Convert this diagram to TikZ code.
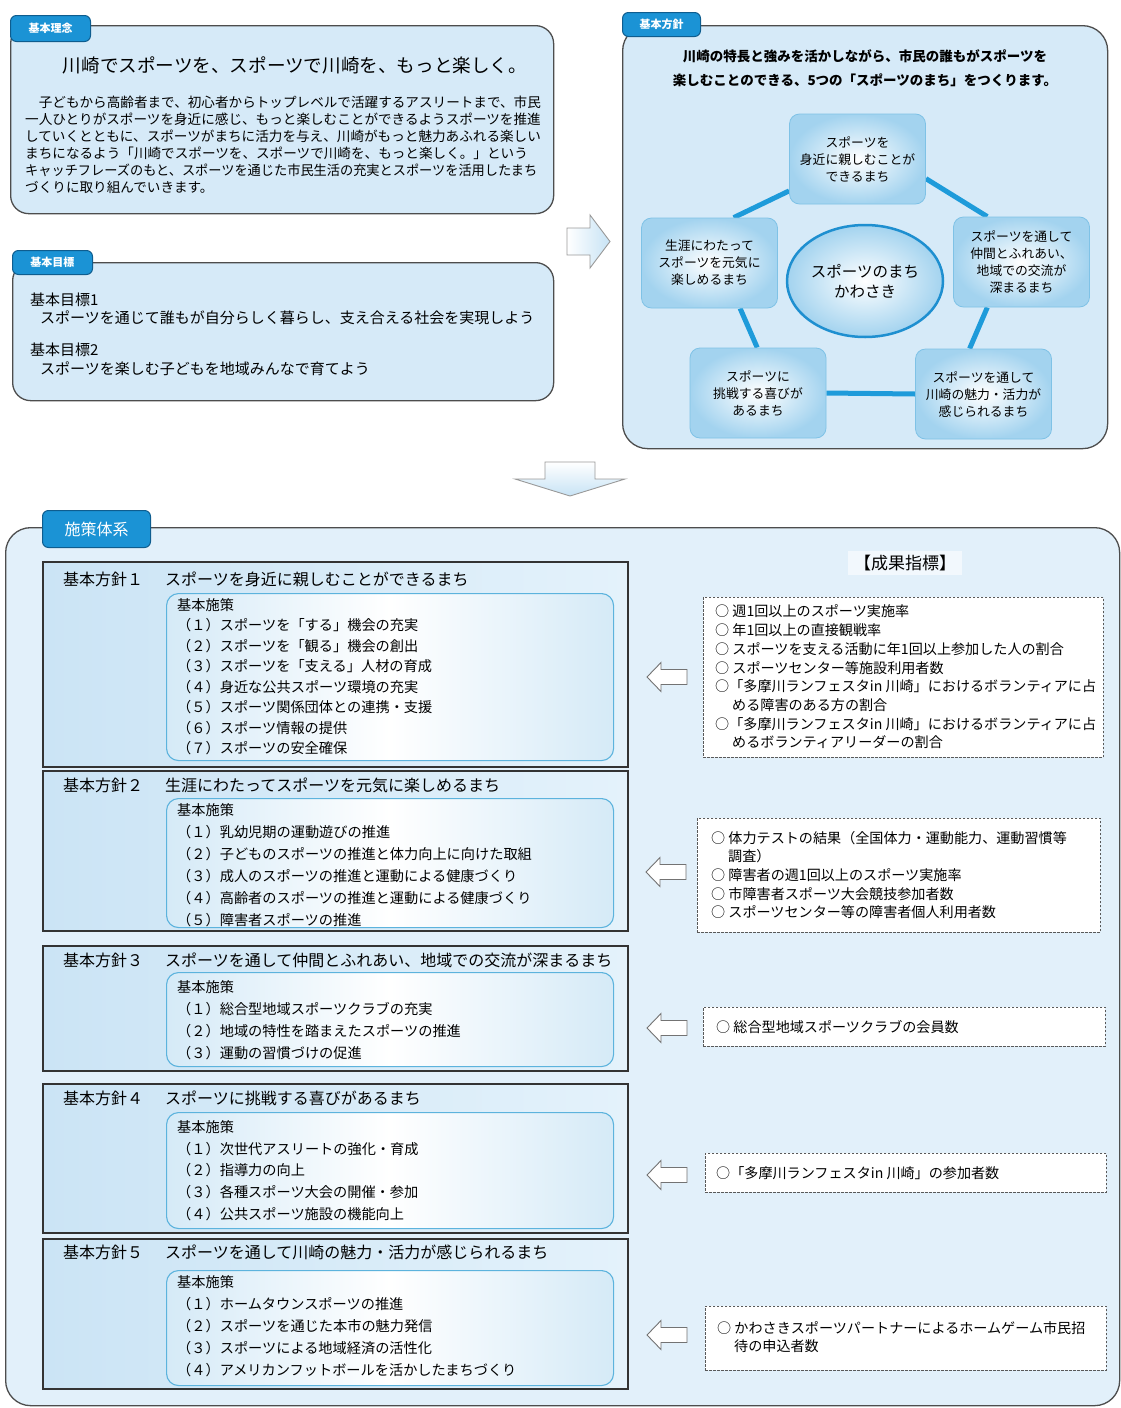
\documentclass[tikz,border=0pt]{standalone}
\usepackage{fontspec}
\setmainfont{Noto Sans CJK JP}
\usetikzlibrary{shapes.geometric}
\pgfdeclarelayer{bg}
\pgfdeclarelayer{mid}
\pgfsetlayers{bg,mid,main}
\definecolor{boxfill}{HTML}{D6EAF8}
\definecolor{bigfill}{HTML}{E2F0FA}
\definecolor{polleft}{HTML}{CBE4F5}
\definecolor{polright}{HTML}{E4F2FB}
\definecolor{innerleft}{HTML}{D5EAF7}
\definecolor{pentedge}{HTML}{A3D3EF}
\definecolor{pentdraw}{HTML}{7FC2E6}
\definecolor{ellipsedraw}{HTML}{1E8FD0}
\definecolor{linkblue}{HTML}{1E9BDA}
\definecolor{tabfill}{HTML}{1B93D5}
\definecolor{tabdraw}{HTML}{0E5D8F}
\definecolor{outline}{HTML}{4D4D4D}
\definecolor{arrowfill}{HTML}{C7E3F5}
\definecolor{innerdraw}{HTML}{5CB3DD}
\tikzset{
  panel/.style={draw=outline, line width=1.3pt, fill=boxfill, rounded corners=18pt, anchor=north west, inner sep=0pt},
  tabbox/.style={draw=tabdraw, line width=1pt, fill=tabfill, rounded corners=6pt, text=white, font=\bfseries\fontsize{11}{13}\selectfont, anchor=north west, inner sep=0pt},
  pentbox/.style={draw=pentdraw, line width=0.8pt, inner color=white, outer color=pentedge, rounded corners=10pt, minimum width=136pt, minimum height=90pt, align=center, font=\fontsize{12.8}{17}\selectfont, inner sep=0pt},
  link/.style={draw=linkblue, line width=5pt},
  polbox/.style={draw=black!80, line width=1.8pt, left color=polleft, right color=polright, anchor=north west, inner sep=0pt, minimum width=585pt},
  innerbox/.style={draw=innerdraw, line width=1.1pt, rounded corners=12pt, left color=innerleft, right color=innerleft, middle color=white, anchor=north west, inner sep=0pt, minimum width=447pt},
  poltitle/.style={anchor=west, inner sep=0pt, font=\fontsize{16}{18}\selectfont},
  items/.style={anchor=west, inner sep=0pt, align=left, font=\fontsize{14.2}{20.5}\selectfont},
  dashbox/.style={draw=black!65, dash pattern=on 2.5pt off 1.5pt, line width=0.9pt, fill=white, anchor=north west, inner sep=0pt},
  ktext/.style={anchor=west, inner sep=0pt, align=left, font=\fontsize{14.1}{18.7}\selectfont},
  hollowarrow/.style={draw=black!55, line width=0.9pt, fill=white},
  bigarrow/.style={draw=black!40, line width=0.9pt, top color=white, bottom color=arrowfill},
  lftarrow/.pic={\draw[hollowarrow] (0,0) -- (14,-14.5) -- (14,-7.5) -- (40,-7.5) -- (40,7.5) -- (14,7.5) -- (14,14.5) -- cycle;}
}
\begin{document}
\begin{tikzpicture}[x=1pt,y=-1pt]
\useasboundingbox (0,0) rectangle (1121,1408);

% ---------- containers ----------
\begin{pgfonlayer}{bg}
\node[panel, minimum width=543pt, minimum height=188pt] (rinen) at (10,25) {};
\node[panel, minimum width=541pt, minimum height=138pt] (mokuhyo) at (12,262) {};
\node[panel, rounded corners=25pt, minimum width=485pt, minimum height=423pt] (hoshin) at (622,25) {};
\node[panel, rounded corners=25pt, fill=bigfill, minimum width=1114pt, minimum height=878pt] (sesaku) at (5,527) {};
\end{pgfonlayer}

% ---------- tabs ----------
\node[tabbox, minimum width=80pt, minimum height=26pt] (rinenTab) at (10,15) {基本理念};
\node[tabbox, minimum width=80pt, minimum height=24pt] (mokuhyoTab) at (12,250) {基本目標};
\node[tabbox, minimum width=78pt, minimum height=24pt] (hoshinTab) at (622,12) {基本方針};
\node[tabbox, minimum width=108pt, minimum height=37pt, font=\fontsize{16}{18}\selectfont] (sesakuTab) at (42,510) {施策体系};

% ---------- 基本理念 ----------
\node[inner sep=0pt, font=\fontsize{18.6}{20}\selectfont] (rinenTitle) at (295,65) {川崎でスポーツを、スポーツで川崎を、もっと楽しく。};
\node[anchor=west, inner sep=0pt, align=left, font=\fontsize{13.6}{17}\selectfont] (rinenBody) at (25,144.5) {%
　子どもから高齢者まで、初心者からトップレベルで活躍するアスリートまで、市民\\
一人ひとりがスポーツを身近に感じ、もっと楽しむことができるようスポーツを推進\\
していくとともに、スポーツがまちに活力を与え、川崎がもっと魅力あふれる楽しい\\
まちになるよう「川崎でスポーツを、スポーツで川崎を、もっと楽しく。」という\\
\scalebox{0.97}[1]{キャッチフレーズのもと、スポーツを通じた市民生活の充実とスポーツを活用したまち}\\
づくりに取り組んでいきます。};

% ---------- 基本目標 ----------
\node[anchor=west, inner sep=0pt, align=left, font=\fontsize{15}{18.5}\selectfont] (goal1) at (30,309) {基本目標1\\\hspace*{10pt}スポーツを通じて誰もが自分らしく暮らし、支え合える社会を実現しよう};
\node[anchor=west, inner sep=0pt, align=left, font=\fontsize{15}{18.5}\selectfont] (goal2) at (30,359.5) {基本目標2\\\hspace*{10pt}スポーツを楽しむ子どもを地域みんなで育てよう};

% ---------- arrows between panels ----------
\draw[bigarrow, left color=white, right color=arrowfill] (567,228) -- (590,228) -- (590,215) -- (610,241.5) -- (590,268) -- (590,255) -- (567,255) -- cycle;
\draw[bigarrow] (545,462) -- (595,462) -- (595,479) -- (625,479) -- (570,496) -- (515,479) -- (545,479) -- cycle;

% ---------- 基本方針 ----------
\node[inner sep=0pt, align=center, font=\bfseries\fontsize{13.5}{24}\selectfont] (hoshinHead) at (865,68) {川崎の特長と強みを活かしながら、市民の誰もがスポーツを\\楽しむことのできる、5つの「スポーツのまち」をつくります。};

\node[pentbox] (T) at (857.5,159) {スポーツを\\身近に親しむことが\\できるまち};
\node[pentbox] (L) at (709.5,263) {生涯にわたって\\スポーツを元気に\\楽しめるまち};
\node[pentbox] (R) at (1021.5,262) {スポーツを通して\\仲間とふれあい、\\地域での交流が\\深まるまち};
\node[pentbox] (BL) at (758,393) {スポーツに\\挑戦する喜びが\\あるまち};
\node[pentbox] (BR) at (983.5,394) {スポーツを通して\\川崎の魅力・活力が\\感じられるまち};
\node[ellipse, draw=ellipsedraw, line width=2.5pt, inner color=white, outer color=pentedge, minimum width=156pt, minimum height=112pt, inner sep=0pt, align=center, font=\fontsize{15.5}{20}\selectfont] (C) at (865,281) {スポーツのまち\\かわさき};

\begin{pgfonlayer}{mid}
\draw[link] (T.205) -- (L.62);
\draw[link] (T.344) -- (R.127);
\draw[link] (L.304) -- (BL.91);
\draw[link] (R.233) -- (BR.107);
\draw[link] (BL.east) -- (BR.west);
\end{pgfonlayer}

% ---------- 施策体系 ----------
\node[fill=white!55!bigfill, inner xsep=6pt, inner ysep=4pt, font=\fontsize{17}{19}\selectfont] (seika) at (905,563) {【成果指標】};

% policy 1
\node[polbox, minimum height=205pt] (p1) at (42,561) {};
\node[poltitle] (p1n) at (63,579) {基本方針１};
\node[poltitle] (p1t) at (165,579) {スポーツを身近に親しむことができるまち};
\node[innerbox, minimum height=167pt] (i1) at (166,593) {};
\node[items] (i1t) at (177,676.5) {基本施策\\（１）スポーツを「する」機会の充実\\（２）スポーツを「観る」機会の創出\\（３）スポーツを「支える」人材の育成\\（４）身近な公共スポーツ環境の充実\\（５）スポーツ関係団体との連携・支援\\（６）スポーツ情報の提供\\（７）スポーツの安全確保};

% policy 2
\node[polbox, minimum height=160pt] (p2) at (42,770) {};
\node[poltitle] (p2n) at (63,785) {基本方針２};
\node[poltitle] (p2t) at (165,785) {生涯にわたってスポーツを元気に楽しめるまち};
\node[innerbox, minimum height=129pt] (i2) at (166,798) {};
\node[items, font=\fontsize{14.2}{22}\selectfont] (i2t) at (177,865) {基本施策\\（１）乳幼児期の運動遊びの推進\\（２）子どものスポーツの推進と体力向上に向けた取組\\（３）成人のスポーツの推進と運動による健康づくり\\（４）高齢者のスポーツの推進と運動による健康づくり\\（５）障害者スポーツの推進};

% policy 3
\node[polbox, minimum height=125pt] (p3) at (42,945) {};
\node[poltitle] (p3n) at (63,960) {基本方針３};
\node[poltitle] (p3t) at (165,960) {スポーツを通して仲間とふれあい、地域での交流が深まるまち};
\node[innerbox, minimum height=94pt] (i3) at (166,972) {};
\node[items, font=\fontsize{14.2}{22}\selectfont] (i3t) at (177,1020) {基本施策\\（１）総合型地域スポーツクラブの充実\\（２）地域の特性を踏まえたスポーツの推進\\（３）運動の習慣づけの促進};

% policy 4
\node[polbox, minimum height=149pt] (p4) at (42,1083) {};
\node[poltitle] (p4n) at (63,1098) {基本方針４};
\node[poltitle] (p4t) at (165,1098) {スポーツに挑戦する喜びがあるまち};
\node[innerbox, minimum height=116pt] (i4) at (166,1112) {};
\node[items, font=\fontsize{14.2}{21.7}\selectfont] (i4t) at (177,1170.5) {基本施策\\（１）次世代アスリートの強化・育成\\（２）指導力の向上\\（３）各種スポーツ大会の開催・参加\\（４）公共スポーツ施設の機能向上};

% policy 5
\node[polbox, minimum height=150pt] (p5) at (42,1238) {};
\node[poltitle] (p5n) at (63,1252) {基本方針５};
\node[poltitle] (p5t) at (165,1252) {スポーツを通して川崎の魅力・活力が感じられるまち};
\node[innerbox, minimum height=115pt] (i5) at (166,1270) {};
\node[items, font=\fontsize{14.2}{22}\selectfont] (i5t) at (177,1326) {基本施策\\（１）ホームタウンスポーツの推進\\（２）スポーツを通じた本市の魅力発信\\（３）スポーツによる地域経済の活性化\\（４）アメリカンフットボールを活かしたまちづくり};

% ---------- 成果指標 boxes ----------
\node[dashbox, minimum width=400pt, minimum height=160pt] (k1) at (703,597) {};
\node[ktext] (k1t) at (715,677) {○ 週1回以上のスポーツ実施率\\○ 年1回以上の直接観戦率\\○ スポーツを支える活動に年1回以上参加した人の割合\\○ スポーツセンター等施設利用者数\\○「多摩川ランフェスタin 川崎」におけるボランティアに占\\\hspace*{17pt}める障害のある方の割合\\○「多摩川ランフェスタin 川崎」におけるボランティアに占\\\hspace*{17pt}めるボランティアリーダーの割合};

\node[dashbox, minimum width=403pt, minimum height=114pt] (k2) at (697,818) {};
\node[ktext] (k2t) at (711,875) {○ 体力テストの結果（全国体力・運動能力、運動習慣等\\\hspace*{17pt}調査）\\○ 障害者の週1回以上のスポーツ実施率\\○ 市障害者スポーツ大会競技参加者数\\○ スポーツセンター等の障害者個人利用者数};

\node[dashbox, minimum width=402pt, minimum height=39pt] (k3) at (703,1007) {};
\node[ktext] (k3t) at (716,1027) {○ 総合型地域スポーツクラブの会員数};

\node[dashbox, minimum width=401pt, minimum height=39pt] (k4) at (705,1153) {};
\node[ktext] (k4t) at (716,1173) {○「多摩川ランフェスタin 川崎」の参加者数};

\node[dashbox, minimum width=401pt, minimum height=64pt] (k5) at (705,1306) {};
\node[ktext] (k5t) at (717,1337) {○ かわさきスポーツパートナーによるホームゲーム市民招\\\hspace*{17pt}待の申込者数};

% ---------- hollow arrows ----------
\pic at (647,677) {lftarrow};
\pic at (646,872) {lftarrow};
\pic at (647,1028) {lftarrow};
\pic at (647,1175) {lftarrow};
\pic at (647,1335) {lftarrow};
\end{tikzpicture}
\end{document}
